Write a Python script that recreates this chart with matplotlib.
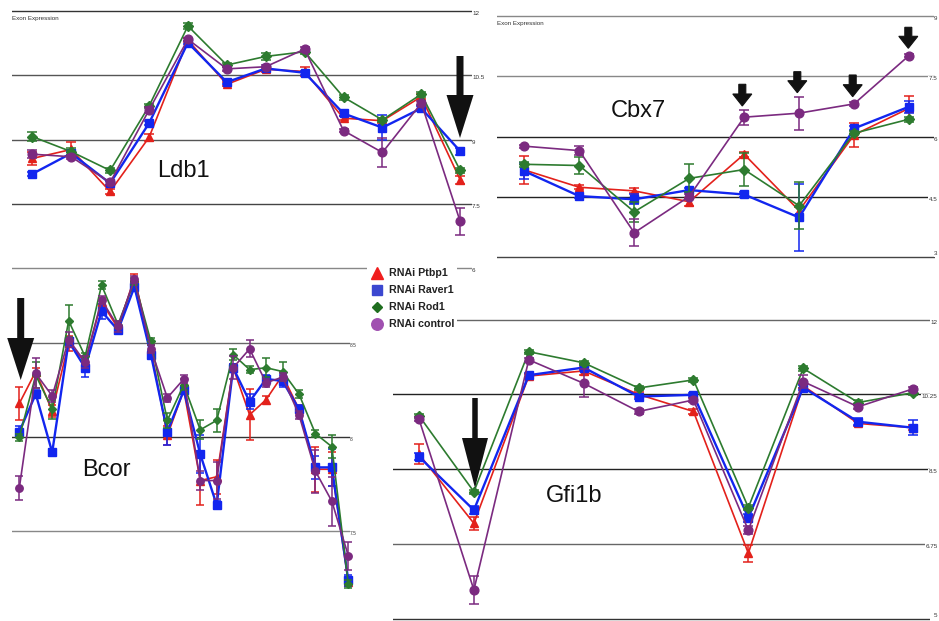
import matplotlib
matplotlib.use('Agg')
import matplotlib.pyplot as plt
from matplotlib.patches import FancyArrow, Rectangle
import numpy as np

plt.rcParams['font.family'] = ['Liberation Sans', 'DejaVu Sans']

W, H = 939, 621

# ---------------- data ----------------
series_names = ['RNAi Ptbp1', 'RNAi Raver1', 'RNAi Rod1', 'RNAi control']

# Ldb1 (12 probesets)
ldb1_ptbp1 = [8.56, 8.77, 7.79, 9.05, 11.32, 10.29, 10.64, 10.59, 9.50, 9.44, 10.00, 8.06]
ldb1_raver1 = [8.20, 8.68, 7.98, 9.38, 11.26, 10.34, 10.66, 10.56, 9.61, 9.28, 9.73, 8.73]
ldb1_rod1 = [9.07, 8.72, 8.28, 9.78, 11.65, 10.74, 10.94, 11.05, 9.99, 9.46, 10.06, 8.28]
ldb1_control = [8.66, 8.60, 8.00, 9.69, 11.34, 10.65, 10.70, 11.11, 9.21, 8.70, 9.85, 7.09]
ldb1_err_ptbp1 = [0.15, 0.18, 0.06, 0.08, 0.05, 0.05, 0.06, 0.10, 0.05, 0.05, 0.06, 0.10]
ldb1_err_raver1 = [0.05, 0.05, 0.05, 0.05, 0.04, 0.05, 0.04, 0.05, 0.06, 0.30, 0.05, 0.08]
ldb1_err_rod1 = [0.10, 0.08, 0.05, 0.05, 0.06, 0.05, 0.08, 0.05, 0.06, 0.05, 0.06, 0.05]
ldb1_err_control = [0.10, 0.05, 0.05, 0.08, 0.04, 0.05, 0.04, 0.06, 0.04, 0.33, 0.04, 0.32]
ldb1_ticks = [12, 10.5, 9, 7.5, 6]
ldb1_tick_labels = ['12', '10.5', '9', '7.5', '6']

# Cbx7 (8 probesets)
cbx7_ptbp1 = [5.17, 4.74, 4.65, 4.38, 5.56, 4.16, 6.04, 6.70]
cbx7_raver1 = [5.14, 4.52, 4.44, 4.67, 4.56, 3.99, 6.20, 6.74]
cbx7_rod1 = [5.31, 5.28, 4.13, 4.96, 5.18, 4.28, 6.08, 6.43]
cbx7_control = [5.76, 5.65, 3.61, 4.51, 6.48, 6.58, 6.81, 8.01]
cbx7_err_ptbp1 = [0.34, 0.05, 0.06, 0.10, 0.06, 0.10, 0.30, 0.30]
cbx7_err_raver1 = [0.20, 0.05, 0.12, 0.06, 0.05, 0.83, 0.05, 0.15]
cbx7_err_rod1 = [0.06, 0.20, 0.25, 0.35, 0.41, 0.58, 0.05, 0.06]
cbx7_err_control = [0.04, 0.12, 0.33, 0.06, 0.19, 0.41, 0.04, 0.04]
cbx7_ticks = [9, 7.5, 6, 4.5, 3]
cbx7_tick_labels = ['9', '7.5', '6', '4.5', '3']

# Bcor (21 probesets)
bcor_ptbp1 = [8.18, 8.35, 8.14, 8.50, 8.40, 8.72, 8.58, 8.85, 8.47, 8.01, 8.25, 7.77,
              7.79, 8.37, 8.12, 8.20, 8.33, 8.15, 7.83, 7.83, 7.23]
bcor_raver1 = [8.03, 8.23, 7.92, 8.51, 8.37, 8.67, 8.57, 8.80, 8.44, 8.03, 8.25, 7.91,
               7.64, 8.37, 8.19, 8.31, 8.30, 8.15, 7.84, 7.84, 7.24]
bcor_rod1 = [8.00, 8.33, 8.15, 8.62, 8.43, 8.81, 8.60, 8.83, 8.51, 8.09, 8.28, 8.04,
             8.09, 8.44, 8.36, 8.37, 8.35, 8.23, 8.02, 7.95, 7.22]
bcor_control = [7.73, 8.34, 8.22, 8.52, 8.40, 8.73, 8.59, 8.84, 8.47, 8.21, 8.31, 7.77,
                7.77, 8.37, 8.47, 8.29, 8.32, 8.12, 7.82, 7.66, 7.37]
bcor_err_ptbp1 = [0.09, 0.02, 0.03, 0.04, 0.02, 0.02, 0.02, 0.02, 0.02, 0.05, 0.02, 0.13,
                  0.09, 0.02, 0.135, 0.02, 0.02, 0.02, 0.12, 0.09, 0.02]
bcor_err_raver1 = [0.03, 0.02, 0.02, 0.02, 0.05, 0.04, 0.02, 0.02, 0.02, 0.07, 0.02, 0.10,
                   0.02, 0.02, 0.04, 0.02, 0.03, 0.02, 0.06, 0.10, 0.03]
bcor_err_rod1 = [0.02, 0.07, 0.05, 0.085, 0.02, 0.02, 0.02, 0.02, 0.02, 0.04, 0.03, 0.05,
                 0.06, 0.03, 0.02, 0.05, 0.05, 0.02, 0.02, 0.06, 0.02]
bcor_err_control = [0.065, 0.08, 0.03, 0.04, 0.03, 0.02, 0.03, 0.02, 0.02, 0.02, 0.02, 0.05,
                    0.10, 0.06, 0.045, 0.02, 0.02, 0.02, 0.115, 0.13, 0.075]
bcor_ticks = [8.5, 8, 7.5]
bcor_tick_labels = ['8.5', '8', '7.5']

# Gfi1b (10 probesets)
gfi1b_ptbp1 = [8.85, 7.23, 10.68, 10.80, 10.25, 9.85, 6.53, 10.45, 9.57, 9.47]
gfi1b_raver1 = [8.79, 7.54, 10.70, 10.88, 10.20, 10.24, 7.36, 10.41, 9.61, 9.47]
gfi1b_rod1 = [9.75, 7.97, 11.25, 10.99, 10.40, 10.59, 7.60, 10.86, 10.06, 10.29]
gfi1b_control = [9.67, 5.67, 11.06, 10.51, 9.85, 10.12, 7.07, 10.55, 9.96, 10.38]
gfi1b_err_ptbp1 = [0.23, 0.15, 0.05, 0.10, 0.05, 0.05, 0.20, 0.05, 0.06, 0.06]
gfi1b_err_raver1 = [0.08, 0.10, 0.06, 0.06, 0.05, 0.05, 0.10, 0.06, 0.08, 0.17]
gfi1b_err_rod1 = [0.05, 0.05, 0.05, 0.05, 0.05, 0.05, 0.05, 0.05, 0.05, 0.05]
gfi1b_err_control = [0.05, 0.32, 0.05, 0.33, 0.05, 0.05, 0.10, 0.15, 0.05, 0.05]
gfi1b_ticks = [12, 10.25, 8.5, 6.75, 5]
gfi1b_tick_labels = ['12', '10.25', '8.5', '6.75', '5']

# ---------------- style ----------------
line_colors = ['#e3211b', '#1226ef', '#2d7b2f', '#7b2a80']
legend_colors = ['#f01e1e', '#3b47d0', '#1f6e1f', '#a050b0']
markers = ['^', 's', 'D', 'o']
msizes = [6.3, 6.3, 4.6, 6.3]
lwidths = [1.2, 1.7, 1.2, 1.2]

fig = plt.figure(figsize=(W / 100, H / 100), dpi=100)
fig.patch.set_facecolor('white')


def panel(x0, x1, y0, y1, p0, step, vref, yref, kpx):
    ax = fig.add_axes([x0 / W, 1 - y1 / H, (x1 - x0) / W, (y1 - y0) / H])
    ax.set_xlim((x0 - p0) / step, (x1 - p0) / step)
    ax.set_ylim(vref - (y1 - yref) / kpx, vref + (yref - y0) / kpx)
    ax.axis('off')
    return ax


def grid(ax, ticks, labels, fs=4.5, colors=None, right_edge=False):
    for i, (t, lab) in enumerate(zip(ticks, labels)):
        c = colors[i] if colors else '#444444'
        ax.axhline(t, color=c, lw=1.0, zorder=0.5)
        if right_edge:
            # labels squeezed against the right border of the figure;
            # the lowest one sits above its line so it stays inside the figure
            last = (i == len(ticks) - 1)
            ax.annotate(lab, xy=(1.0, t), xycoords=('figure fraction', 'data'),
                        xytext=(-1, 0.6 if last else 0), textcoords='offset points',
                        ha='right', va='bottom' if last else 'top',
                        fontsize=fs, color='#333333', annotation_clip=False,
                        bbox=dict(facecolor='white', edgecolor='none', pad=0.3))
        else:
            ax.text(1.0, t, lab, transform=ax.get_yaxis_transform(), ha='left', va='top',
                    fontsize=fs, color='#333333', clip_on=False)


def draw(ax, vals, errs, scale=1.0):
    for i, (v, e) in enumerate(zip(vals, errs)):
        x = np.arange(len(v))
        cont = ax.errorbar(x, v, yerr=e, color=line_colors[i], marker=markers[i],
                           ms=msizes[i] * scale, lw=lwidths[i], elinewidth=1.1,
                           capsize=3.3 * scale, capthick=1.1, mec=line_colors[i],
                           zorder=2 + i)
        for art in cont.get_children():
            art.set_clip_on(False)


def title(text, xpx, ypx):
    fig.text(xpx / W, 1 - ypx / H, text, ha='center', va='baseline', fontsize=17,
             color='#111111')


# Ldb1 panel
ax1 = panel(12, 472, 5, 275, 32.3, 38.9, 12, 11, 42.87)
grid(ax1, ldb1_ticks, ldb1_tick_labels,
     colors=['#333333', '#555555', '#555555', '#444444', '#888888'])
draw(ax1, [ldb1_ptbp1, ldb1_raver1, ldb1_rod1, ldb1_control],
     [ldb1_err_ptbp1, ldb1_err_raver1, ldb1_err_rod1, ldb1_err_control])
ax1.annotate('Exon Expression', xy=(0, 12), xycoords=ax1.get_yaxis_transform(),
             xytext=(0, -3.5), textcoords='offset points', ha='left', va='top',
             fontsize=4.5, color='#333333')
title('Ldb1', 183, 176.7)

# Cbx7 panel
ax2 = panel(496.7, 935, 5, 265, 524.3, 54.96, 9, 15.7, 40.27)
grid(ax2, cbx7_ticks, cbx7_tick_labels,
     colors=['#888888', '#888888', '#222222', '#222222', '#444444'], right_edge=True)
draw(ax2, [cbx7_ptbp1, cbx7_raver1, cbx7_rod1, cbx7_control],
     [cbx7_err_ptbp1, cbx7_err_raver1, cbx7_err_rod1, cbx7_err_control])
ax2.annotate('Exon Expression', xy=(0, 9), xycoords=ax2.get_yaxis_transform(),
             xytext=(0, -3.5), textcoords='offset points', ha='left', va='top',
             fontsize=4.5, color='#333333')
title('Cbx7', 638, 117.3)

# Bcor panel
ax3 = panel(12, 350, 265, 600, 19.3, 16.45, 8, 437.3, 188)
grid(ax3, bcor_ticks, bcor_tick_labels, fs=3.5,
     colors=['#666666', '#333333', '#888888'])
draw(ax3, [bcor_ptbp1, bcor_raver1, bcor_rod1, bcor_control],
     [bcor_err_ptbp1, bcor_err_raver1, bcor_err_rod1, bcor_err_control], scale=0.85)
title('Bcor', 106, 475.7)

# Gfi1b panel
ax4 = panel(392.7, 930, 315, 621, 419, 54.89, 12, 319.7, 42.69)
grid(ax4, gfi1b_ticks, gfi1b_tick_labels,
     colors=['#666666', '#222222', '#222222', '#666666', '#333333'], right_edge=True)
draw(ax4, [gfi1b_ptbp1, gfi1b_raver1, gfi1b_rod1, gfi1b_control],
     [gfi1b_err_ptbp1, gfi1b_err_raver1, gfi1b_err_rod1, gfi1b_err_control])
title('Gfi1b', 574, 502.3)

# ---------------- overlay: legend + arrows ----------------
ov = fig.add_axes([0, 0, 1, 1])
ov.set_xlim(0, W)
ov.set_ylim(H, 0)
ov.axis('off')
ov.set_zorder(10)

ov.add_patch(Rectangle((367, 262), 90, 71, facecolor='white', edgecolor='none', zorder=1))
leg_rows = [273.3, 290.0, 307.3, 324.3]
leg_ms = [8.5, 7.2, 5.5, 8.3]
for i, name in enumerate(series_names):
    ov.plot([376.7], [leg_rows[i]], marker=markers[i], ms=leg_ms[i], color=legend_colors[i],
            ls='none', mec=legend_colors[i], zorder=2)
    ov.text(389.3, leg_rows[i], name, ha='left', va='center', fontsize=7.7,
            fontweight='bold', color='#222222', zorder=2)

arrow_color = '#111111'
big_arrows = [(460, 56, 138, 7, 27, 43),
              (20.7, 298, 380, 7, 27, 42),
              (475, 398, 488, 5.5, 26, 50)]
for (x, y0, y1, w, hw, hl) in big_arrows:
    ov.add_patch(FancyArrow(x, y0, 0, y1 - y0, width=w, head_width=hw, head_length=hl,
                            length_includes_head=True, color=arrow_color, lw=0, zorder=3))
small_arrows = [(742.3, 84.3, 106), (797.3, 71.7, 92.7), (852.7, 75, 96.7), (908.3, 27.3, 48.3)]
for (x, y0, y1) in small_arrows:
    ov.add_patch(FancyArrow(x, y0, 0, y1 - y0, width=7, head_width=19, head_length=12,
                            length_includes_head=True, color=arrow_color, lw=0.8,
                            ec=arrow_color, joinstyle='miter', zorder=3))

fig.savefig('out.png', dpi=100, facecolor='white')
